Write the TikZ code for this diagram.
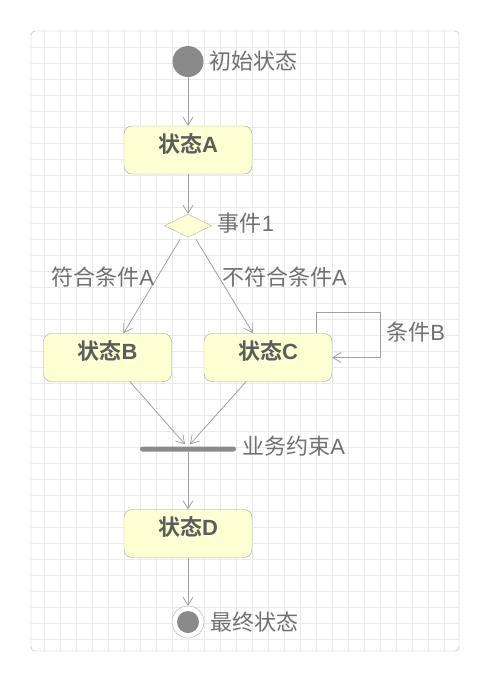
\documentclass[tikz,border=0pt]{standalone}
\usepackage{fontspec}
\setmainfont{Noto Sans CJK SC}[BoldFont={Noto Sans CJK SC Bold}]
\newfontfamily\la{Liberation Sans}
\usepackage{tikz}
\usetikzlibrary{arrows.meta}
\usetikzlibrary{shapes.geometric}
\usetikzlibrary{positioning}
\definecolor{ln}{RGB}{160,160,160}
\definecolor{txt}{RGB}{112,112,112}
\definecolor{stt}{RGB}{92,92,92}
\definecolor{blk}{RGB}{138,138,138}
\definecolor{yel}{RGB}{255,255,212}
\definecolor{grd}{RGB}{234,234,234}
\definecolor{frm}{RGB}{172,172,172}
\tikzset{lb/.style={font=\fontsize{22}{22}\selectfont,text=txt,inner sep=0pt}}
\tikzset{st/.style={draw=ln,fill=yel,rounded corners=8pt,minimum width=128pt,text height=26pt,text depth=22pt,inner xsep=0pt,inner ysep=0pt,font=\fontsize{22}{22}\selectfont\bfseries,text=stt}}
\tikzset{ar/.style={draw=ln,line width=.8pt,-{Straight Barb[length=8pt,width=10pt]}}}
\tikzset{dc/.style={diamond,draw=ln!80!yel,fill=yel,minimum width=47pt,minimum height=23pt,inner sep=0pt}}
\tikzset{br/.style={rectangle,fill=blk,minimum width=96pt,minimum height=5pt,inner sep=0pt,rounded corners=2.5pt}}
\tikzset{ini/.style={circle,fill=blk,minimum size=31pt,inner sep=0pt}}
\tikzset{fin/.style={circle,draw=frm,fill=white,minimum size=32pt,inner sep=0pt}}

\begin{document}
\begin{tikzpicture}[x=1pt,y=-1pt,line join=round]
  \useasboundingbox (0,0) rectangle (490,682);
  \begin{scope}
    \clip[rounded corners=4pt] (31,31) rectangle (459,651);
    \foreach \x in {44,60,...,444} \draw[grd,line width=.8pt] (\x,31) -- (\x,651);
    \foreach \y in {47,63,...,639} \draw[grd,line width=.8pt] (31,\y) -- (459,\y);
  \end{scope}
  \draw[frm,rounded corners=4pt] (31,31) rectangle (459,651);

  \node[ini] (init) at (188,61.5) {};
  \node[lb,right=6pt of init] (initl) {初始状态};
  \node[st] (sA) at (188,150) {状态{\la A}};
  \node[dc] (dec) at (188,225.7) {};
  \node[lb,right=6pt of dec,yshift=3pt] (decl) {事件{\la 1}};
  \node[st] (sB) at (107.5,357.5) {状态{\la B}};
  \node[st] (sC) at (268,357.5) {状态{\la C}};
  \coordinate (lp) at (380,312.7);
  \node[br] (bar) at (188,449) {};
  \node[lb,right=6pt of bar,yshift=3pt] (barl) {业务约束{\la A}};
  \node[st] (sD) at (188,533.5) {状态{\la D}};
  \node[fin] (end) at (188,622) {};
  \fill[blk] (end.center) circle (11pt);
  \node[lb,right=6pt of end] (endl) {最终状态};

  \draw[ar] (init) -- (sA);
  \draw[ar] (sA) -- (dec);
  \draw[ar] ([xshift=-8pt,yshift=-2pt]dec.south) -- node[lb,pos=.4,anchor=east,xshift=-3pt] (ca) {符合条件{\la A}} ([xshift=16pt]sB.north);
  \draw[ar] ([xshift=8pt,yshift=-2pt]dec.south) -- node[lb,pos=.4,anchor=west,xshift=3pt] (nca) {不符合条件{\la A}} ([xshift=-15pt]sC.north);
  \draw[ar] ([xshift=-16pt]sC.north east) |- (lp) |- node[lb,pos=.22,anchor=west,xshift=6pt] (cb) {条件{\la B}} (sC.east);
  \draw[ar] ([xshift=22.5pt]sB.south) -- ([xshift=-3pt,yshift=2pt]bar.north);
  \draw[ar] ([xshift=-22pt]sC.south) -- ([xshift=2pt,yshift=2pt]bar.north);
  \draw[ar] (bar) -- (sD);
  \draw[ar] (sD) -- (end);
\end{tikzpicture}
\end{document}
